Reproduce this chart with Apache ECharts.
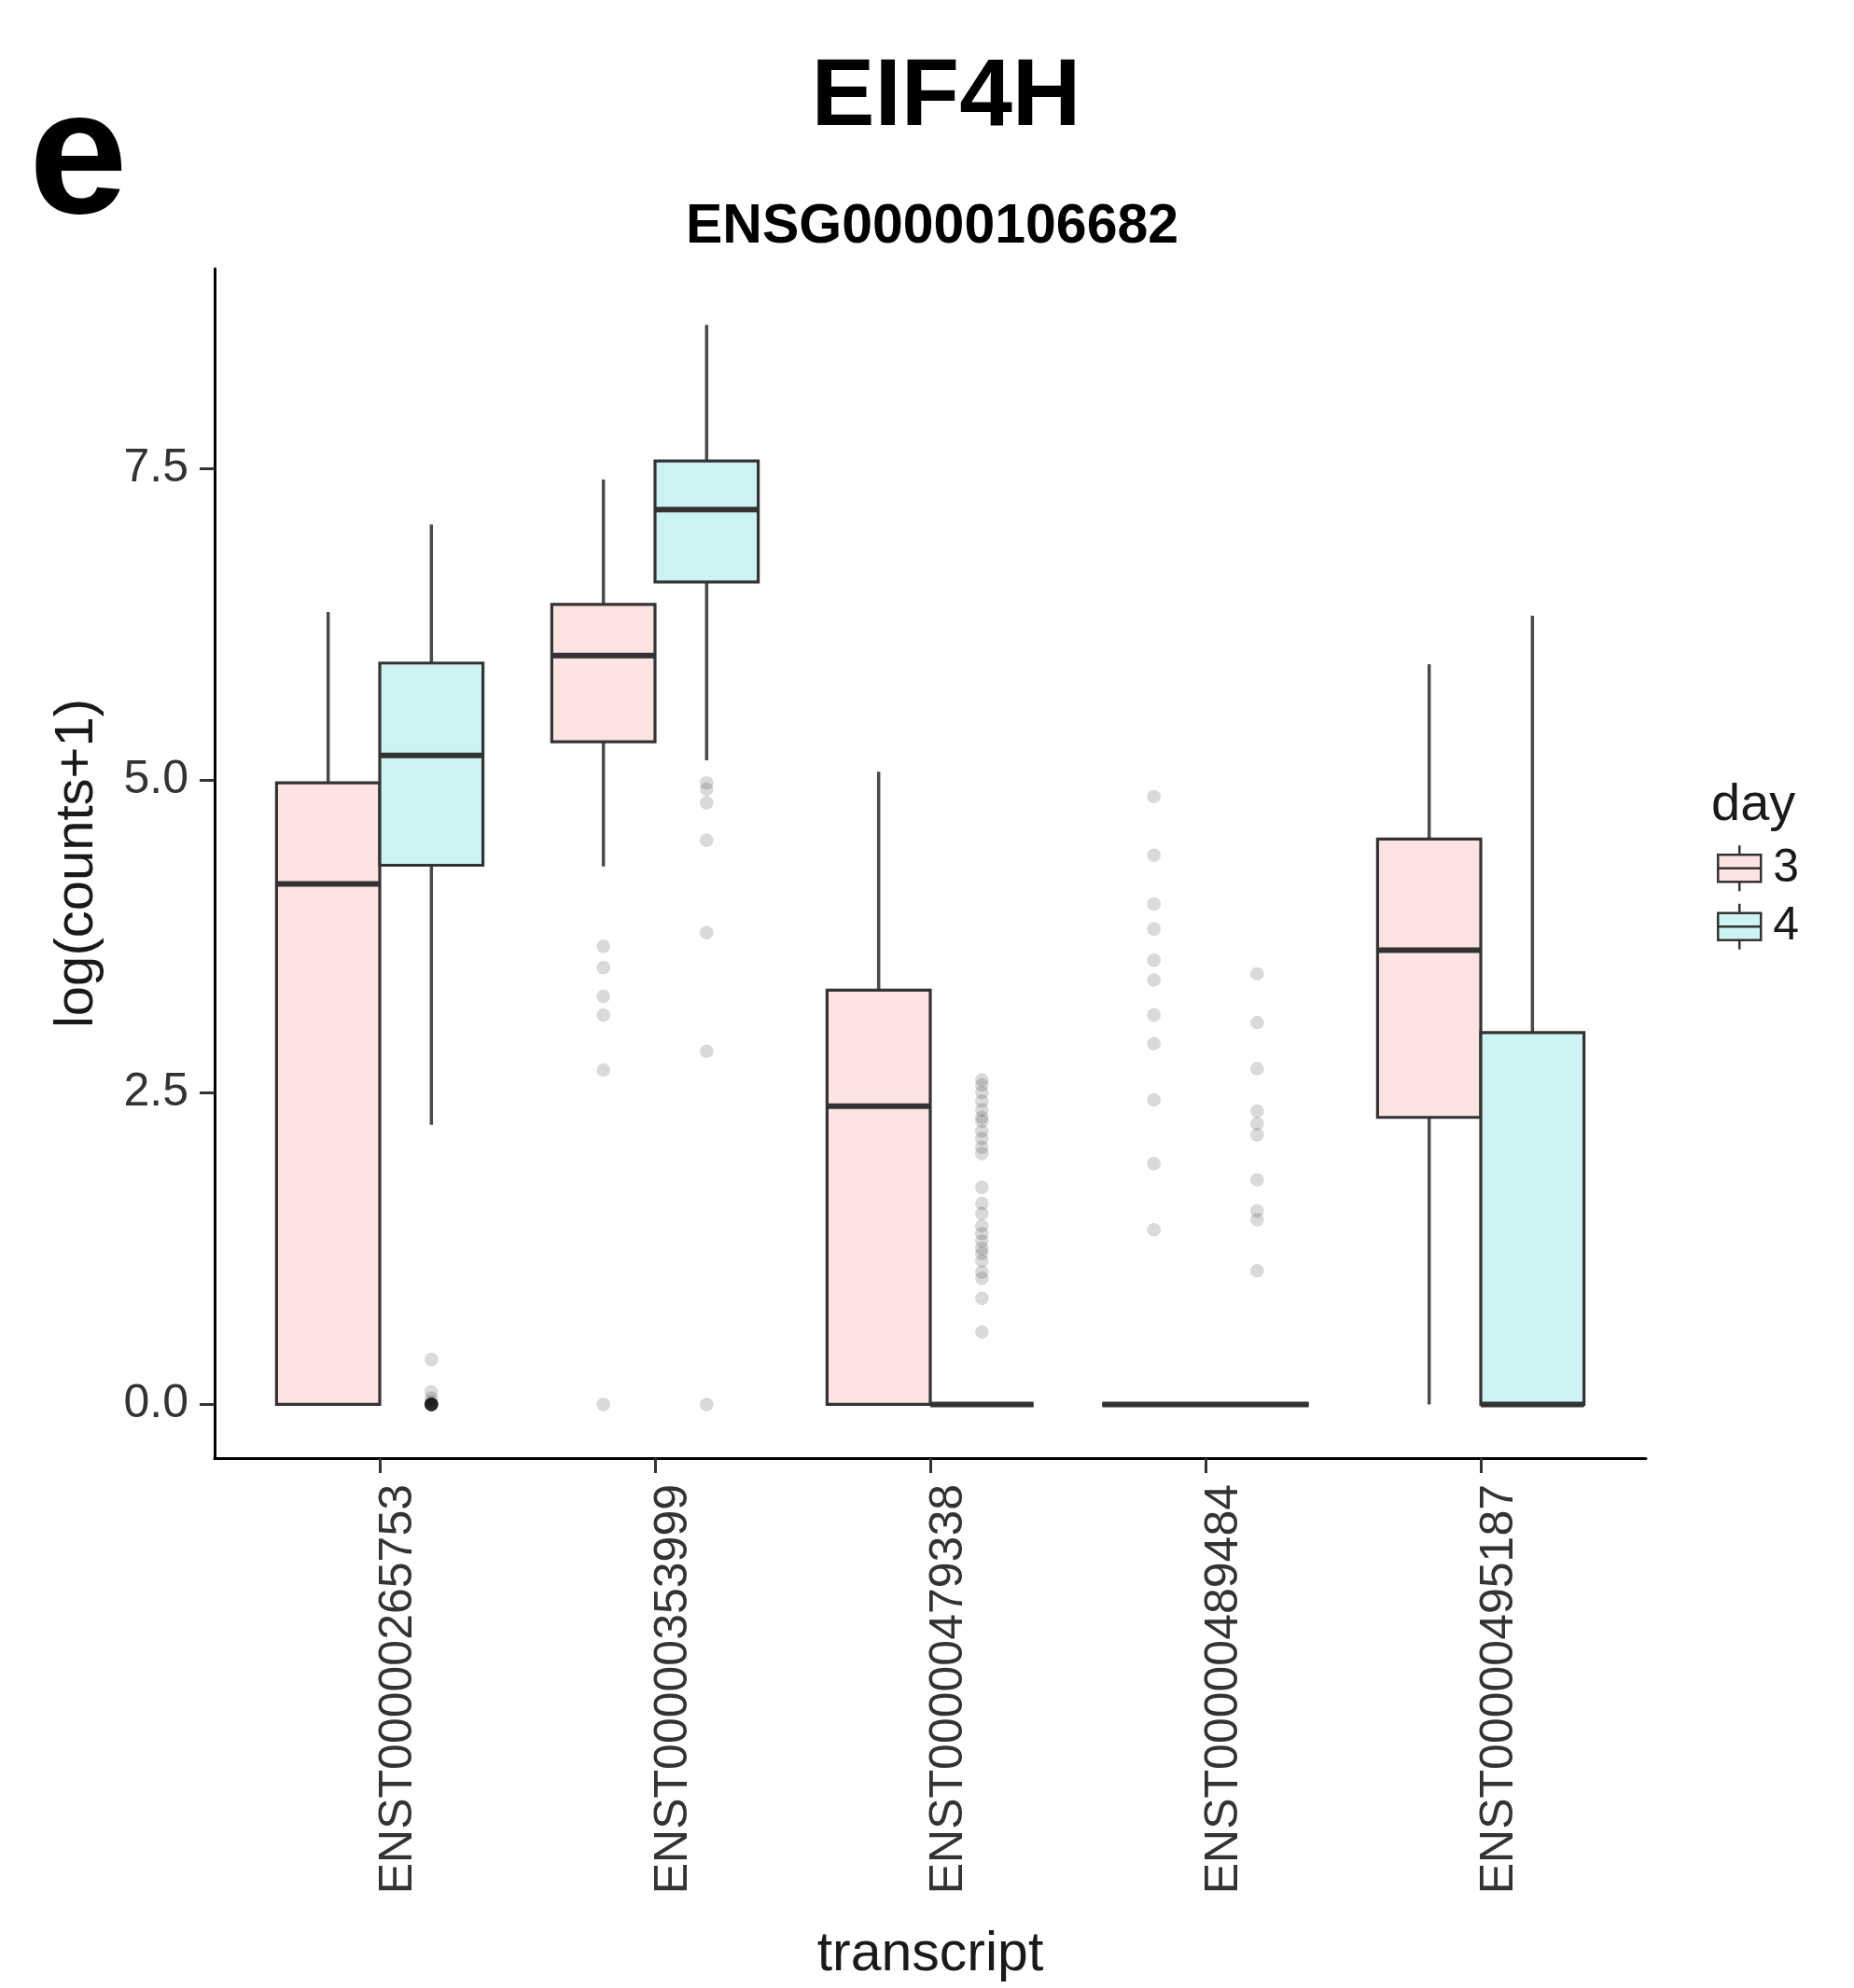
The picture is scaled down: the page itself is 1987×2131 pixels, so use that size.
<!DOCTYPE html>
<html><head><meta charset="utf-8">
<script src="https://cdn.jsdelivr.net/npm/echarts@6/dist/echarts.min.js"></script>
<style>html,body{margin:0;padding:0;background:#fff}#chart{width:1987px;height:2131px}</style>
</head><body><div id="chart"></div>
<script>
// ---------- data ----------
const categories = ['ENST00000265753', 'ENST00000353999', 'ENST00000479338', 'ENST00000489484', 'ENST00000495187'];
const yTicks = [0, 2.5, 5, 7.5];
// [lower whisker, Q1, median, Q3, upper whisker]
const day3Stats = [
  [0, 0, 4.17, 4.98, 6.35],
  [4.31, 5.31, 6.00, 6.41, 7.41],
  [0, 0, 2.39, 3.32, 5.07],
  [0, 0, 0, 0, 0],
  [0, 2.30, 3.64, 4.53, 5.93]
];
const day4Stats = [
  [2.24, 4.32, 5.20, 5.94, 7.05],
  [5.16, 6.59, 7.17, 7.56, 8.65],
  [0, 0, 0, 0, 0],
  [0, 0, 0, 0, 0],
  [0, 0, 0, 2.98, 6.32]
];
const day3Outliers = [
  [],
  [3.67, 3.50, 3.27, 3.12, 2.68, 0],
  [],
  [4.87, 4.40, 4.01, 3.81, 3.56, 3.40, 3.12, 2.89, 2.44, 1.93, 1.40],
  []
];
const day4Outliers = [
  [0.36, 0.10, 0.05, 0.02, 0, 0, 0, 0, 0, 0, 0, 0, 0, 0, 0],
  [4.98, 4.93, 4.82, 4.52, 3.78, 2.83, 0],
  [2.60, 2.56, 2.50, 2.43, 2.36, 2.30, 2.27, 2.19, 2.13, 2.06, 2.01, 1.74, 1.61, 1.53, 1.43, 1.37, 1.31, 1.25, 1.21, 1.15, 1.06, 1.01, 0.85, 0.58],
  [3.45, 3.06, 2.69, 2.35, 2.25, 2.16, 1.80, 1.55, 1.48, 1.07],
  []
];

// ---------- style ----------
const FONT = '"Liberation Sans", Arial, Helvetica, sans-serif';
const BOX_W = 0.375;          // width of each dodged box (category units)
const DODGE = 0.1875;         // offset of each box from category centre
const FILL3 = '#FDE3E2', FILL4 = '#CCF2F3';
const LINE = '#333333', WHISKER = '#4a4a4a';
const LEGEND_ICON = 'path://M23,0L23,10M0,10L46,10L46,39L0,39ZM0,24.5L46,24.5M23,39L23,49';

function boxSeries(name, stats, offset, fill) {
  return {
    type: 'custom',
    name: name,
    itemStyle: { color: fill, borderColor: LINE },
    data: stats.map((s, i) => [i].concat(s)),
    encode: { x: 0, y: [1, 2, 3, 4, 5] },
    z: 3,
    renderItem: function (params, api) {
      const x = api.value(0) + offset;
      const pLo = api.coord([x, api.value(1)]);
      const pQ1 = api.coord([x, api.value(2)]);
      const pMd = api.coord([x, api.value(3)]);
      const pQ3 = api.coord([x, api.value(4)]);
      const pHi = api.coord([x, api.value(5)]);
      const w = api.size([BOX_W, 0])[0];
      const left = pQ1[0] - w / 2;
      return {
        type: 'group',
        children: [
          { type: 'line', shape: { x1: pHi[0], y1: pHi[1], x2: pQ3[0], y2: pQ3[1] }, style: { stroke: WHISKER, lineWidth: 3.5 } },
          { type: 'line', shape: { x1: pQ1[0], y1: pQ1[1], x2: pLo[0], y2: pLo[1] }, style: { stroke: WHISKER, lineWidth: 3.5 } },
          { type: 'rect', shape: { x: left, y: pQ3[1], width: w, height: pQ1[1] - pQ3[1] }, style: { fill: fill, stroke: LINE, lineWidth: 3.2 } },
          { type: 'line', shape: { x1: left, y1: pMd[1], x2: left + w, y2: pMd[1] }, style: { stroke: LINE, lineWidth: 6 } }
        ]
      };
    }
  };
}

function outlierSeries(name, outliers, offset) {
  const pts = [];
  outliers.forEach((vals, i) => vals.forEach(v => pts.push([i + offset, v])));
  return {
    type: 'scatter',
    name: name,
    data: pts,
    symbol: 'circle',
    symbolSize: 14,
    itemStyle: { color: 'rgba(0,0,0,0.18)', borderColor: 'rgba(0,0,0,0.08)', borderWidth: 1 },
    z: 2,
    silent: true
  };
}

const chart = echarts.init(document.getElementById('chart'), null, { renderer: 'canvas' });
chart.setOption({
  animation: false,
  backgroundColor: '#ffffff',
  title: [
    { text: 'e', left: 31, top: 81, padding: 0, textStyle: { fontFamily: FONT, fontSize: 190, fontWeight: 'bold', color: '#000' } },
    { text: 'EIF4H', left: 1014, top: 55, textAlign: 'center', padding: 0, textStyle: { fontFamily: FONT, fontSize: 102, fontWeight: 'bold', color: '#000' } },
    { text: 'ENSG00000106682', left: 999, top: 214, textAlign: 'center', padding: 0, textStyle: { fontFamily: FONT, fontSize: 59, fontWeight: 'bold', color: '#000' } },
    { text: 'day', left: 1834, top: 836, padding: 0, textStyle: { fontFamily: FONT, fontSize: 56, fontWeight: 'normal', color: '#1a1a1a' } }
  ],
  legend: {
    orient: 'vertical',
    left: 1840,
    top: 905,
    padding: 0,
    itemWidth: 46,
    itemHeight: 49,
    itemGap: 11,
    selectedMode: false,
    textStyle: { fontFamily: FONT, fontSize: 50, color: '#1a1a1a', padding: [0, 0, 0, 8] },
    data: [
      { name: '3', icon: LEGEND_ICON, itemStyle: { color: FILL3, borderColor: LINE, borderWidth: 2.5 } },
      { name: '4', icon: LEGEND_ICON, itemStyle: { color: FILL4, borderColor: LINE, borderWidth: 2.5 } }
    ]
  },
  grid: { left: 230, right: 223, top: 288, bottom: 568, containLabel: false },
  xAxis: {
    type: 'value',
    min: -0.6,
    max: 4.6,
    splitLine: { show: false },
    axisLine: { show: true, onZero: false, lineStyle: { color: '#000', width: 3 } },
    axisTick: { show: true, customValues: [0, 1, 2, 3, 4], length: 16, lineStyle: { color: '#333', width: 3 } },
    axisLabel: {
      customValues: [0, 1, 2, 3, 4],
      rotate: 90,
      formatter: v => categories[Math.round(v)],
      fontFamily: FONT, fontSize: 50, color: '#333', margin: 28,
      verticalAlign: 'top',
      lineHeight: 40
    },
    name: 'transcript',
    nameLocation: 'middle',
    nameGap: 503,
    nameTextStyle: { fontFamily: FONT, fontSize: 59, color: '#1a1a1a' }
  },
  yAxis: {
    type: 'value',
    min: -0.43,
    max: 9.1,
    splitLine: { show: false },
    axisLine: { show: true, onZero: false, lineStyle: { color: '#000', width: 3 } },
    axisTick: { show: true, customValues: yTicks, length: 16, lineStyle: { color: '#333', width: 3 } },
    axisLabel: { customValues: yTicks, formatter: v => v.toFixed(1), fontFamily: FONT, fontSize: 50, color: '#333', margin: 28 },
    name: 'log(counts+1)',
    nameLocation: 'middle',
    nameGap: 118,
    nameTextStyle: { fontFamily: FONT, fontSize: 58, color: '#1a1a1a' }
  },
  series: [
    outlierSeries('out3', day3Outliers, -DODGE),
    outlierSeries('out4', day4Outliers, DODGE),
    boxSeries('3', day3Stats, -DODGE, FILL3),
    boxSeries('4', day4Stats, DODGE, FILL4)
  ]
});
</script>
</body></html>
